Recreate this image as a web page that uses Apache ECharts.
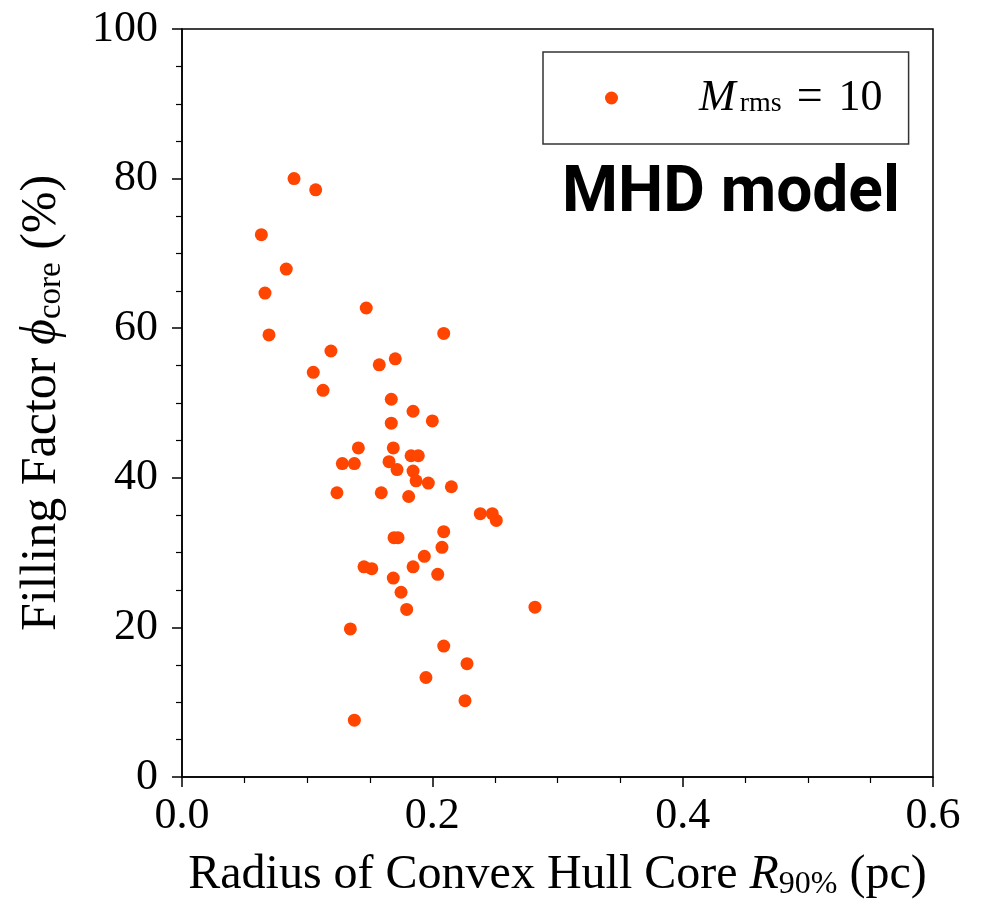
<!DOCTYPE html>
<html>
<head>
<meta charset="utf-8">
<script src="https://cdn.jsdelivr.net/npm/echarts@6/dist/echarts.min.js"></script>
<style>html,body{margin:0;padding:0;background:#fff;}#c{width:982px;height:900px;}</style>
</head>
<body>
<div id="c"></div>
<script>
// Radius of convex hull core R90% (pc)
const radius = [0.0895,0.1068,0.0634,0.0833,0.0663,0.1472,0.0695,0.2091,0.1190,0.1576,0.1704,0.1049,0.1127,0.1672,0.1846,0.2000,0.1672,0.1409,0.1688,0.1281,0.1377,0.1654,0.1830,0.1888,0.1718,0.1846,0.1870,0.1968,0.2152,0.1238,0.1592,0.1811,0.2383,0.2479,0.2511,0.2091,0.1694,0.1726,0.2077,0.1936,0.1454,0.1516,0.1846,0.2043,0.1688,0.1750,0.1795,0.2820,0.1345,0.2091,0.2277,0.1949,0.2261,0.1377];
// Filling factor phi_core (%)
const filling = [80.0,78.5,72.5,67.9,64.7,62.7,59.1,59.3,56.95,55.1,55.9,54.1,51.7,50.5,48.9,47.6,47.3,44.0,44.0,41.9,41.9,42.15,42.95,42.95,41.1,40.9,39.6,39.3,38.8,38.0,38.0,37.5,35.2,35.2,34.3,32.8,32.0,32.0,30.7,29.5,28.1,27.85,28.1,27.1,26.6,24.7,22.4,22.7,19.8,17.5,15.15,13.3,10.2,7.6];
const xTicks = ['0.0','0.2','0.4','0.6'];
const yTicks = ['0','20','40','60','80','100'];
const seriesName = 'Mrms=10';

const serif = 'Liberation Serif';
const points = radius.map((r, i) => [r, filling[i]]);

const chart = echarts.init(document.getElementById('c'));
chart.setOption({
  backgroundColor: '#ffffff',
  animation: false,
  grid: { left: 182, right: 49, top: 29, bottom: 123, containLabel: false, outerBoundsMode: 'none',
    show: true, borderColor: '#000', borderWidth: 1.5, backgroundColor: 'transparent' },
  title: {
    text: 'MHD model', left: 562, top: 163, padding: 0,
    textStyle: { fontFamily: 'Roboto', fontWeight: 'bold', fontSize: 64, lineHeight: 64, color: '#000' }
  },
  legend: {
    data: [seriesName], left: 543, top: 52, orient: 'horizontal',
    padding: [23, 26, 23, 62], borderColor: '#333', borderWidth: 1.5, borderRadius: 0,
    icon: 'circle', itemWidth: 13, itemHeight: 13,
    formatter: () => '{i|M}{s|rms}{e|=}{n|10}',
    textStyle: {
      padding: [0, 0, 0, 76],
      rich: {
        i: { fontFamily: serif, fontStyle: 'italic', fontSize: 44, lineHeight: 40, color: '#000', verticalAlign: 'middle', padding: [0, 4, 0, 0] },
        s: { fontFamily: serif, fontSize: 28, lineHeight: 22, color: '#000', verticalAlign: 'bottom' },
        e: { fontFamily: serif, fontSize: 46, lineHeight: 40, color: '#000', verticalAlign: 'middle', padding: [0, 16, 0, 15] },
        n: { fontFamily: serif, fontSize: 44, lineHeight: 40, color: '#000', verticalAlign: 'middle' }
      }
    }
  },
  xAxis: {
    type: 'value', min: 0, max: 0.6, interval: 0.2,
    name: '{t|Radius of Convex Hull Core }{i|R}{s|90%}{t| (pc)}',
    nameLocation: 'middle', nameGap: 72,
    nameTextStyle: {
      rich: {
        t: { fontFamily: serif, fontSize: 48, lineHeight: 52, color: '#000', verticalAlign: 'middle' },
        i: { fontFamily: serif, fontStyle: 'italic', fontSize: 48, lineHeight: 52, color: '#000', verticalAlign: 'middle' },
        s: { fontFamily: serif, fontSize: 32, lineHeight: 32, color: '#000', verticalAlign: 'bottom' }
      }
    },
    axisLine: { show: true, onZero: false, lineStyle: { color: '#000', width: 1.5 } },
    axisTick: { show: true, inside: false, length: 10, lineStyle: { color: '#000', width: 1.5 } },
    minorTick: { show: true, splitNumber: 4, length: 6, lineStyle: { color: '#000', width: 1.2 } },
    splitLine: { show: false },
    axisLabel: { margin: 17, fontFamily: serif, fontSize: 44, color: '#000',
      formatter: (v) => xTicks[Math.round(v / 0.2)] }
  },
  yAxis: {
    type: 'value', min: 0, max: 100, interval: 20,
    name: '{t|Filling Factor }{i|ϕ}{s|core}{t| (%)}',
    nameLocation: 'middle', nameGap: 114, nameRotate: 90,
    nameTextStyle: {
      rich: {
        t: { fontFamily: serif, fontSize: 50, lineHeight: 52, color: '#000', verticalAlign: 'middle' },
        i: { fontFamily: serif, fontStyle: 'italic', fontSize: 50, lineHeight: 52, color: '#000', verticalAlign: 'middle' },
        s: { fontFamily: serif, fontSize: 33, lineHeight: 32, color: '#000', verticalAlign: 'bottom' }
      }
    },
    axisLine: { show: true, onZero: false, lineStyle: { color: '#000', width: 1.5 } },
    axisTick: { show: true, inside: false, length: 10, lineStyle: { color: '#000', width: 1.5 } },
    minorTick: { show: true, splitNumber: 4, length: 6, lineStyle: { color: '#000', width: 1.2 } },
    splitLine: { show: false },
    axisLabel: { margin: 24, fontFamily: serif, fontSize: 44, color: '#000',
      formatter: (v) => yTicks[Math.round(v / 20)] }
  },
  series: [{
    name: seriesName, type: 'scatter', data: points,
    symbol: 'circle', symbolSize: 13,
    itemStyle: { color: '#FF4500', opacity: 1 }
  }]
});
</script>
</body>
</html>
